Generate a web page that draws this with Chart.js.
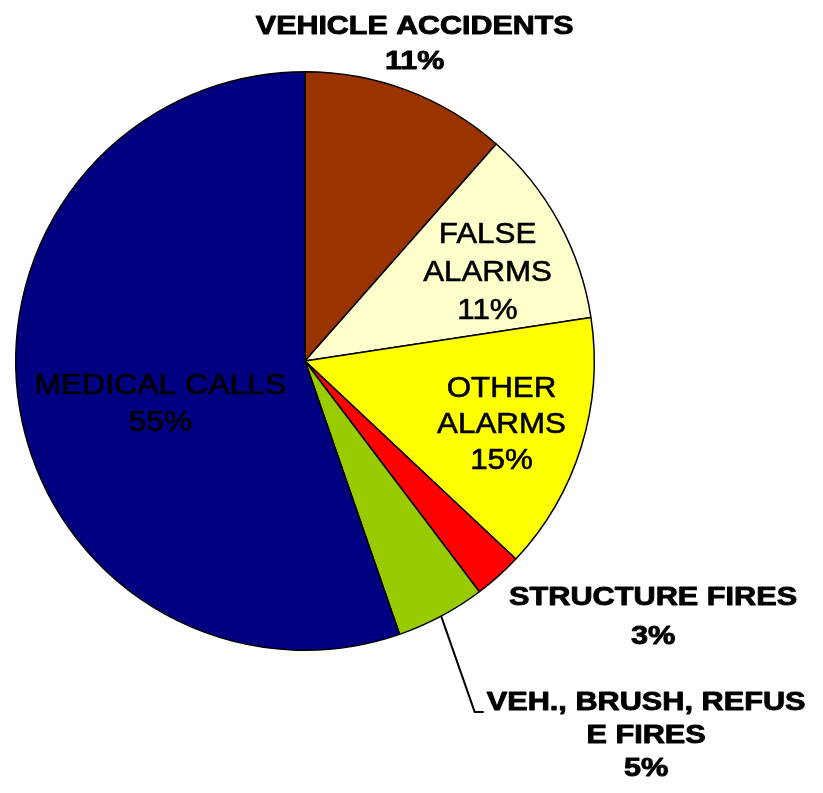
<!DOCTYPE html>
<html>
<head>
<meta charset="utf-8">
<script src="https://cdn.jsdelivr.net/npm/chart.js@4"></script>
<style>
  html, body { margin: 0; padding: 0; background: #fff; }
  #wrap { width: 823px; height: 793px; }
</style>
</head>
<body>
<div id="wrap"><canvas id="pieGraph" width="823" height="793"></canvas></div>
<script>
// categories and values (clockwise from 12 o'clock)
let categories = ['VEHICLE ACCIDENTS', 'FALSE ALARMS', 'OTHER ALARMS', 'STRUCTURE FIRES', 'VEH., BRUSH, REFUSE FIRES', 'MEDICAL CALLS'];
let values = [11.5, 11.1, 14.4, 2.7, 5.0, 55.3];
let percentLabels = ['11%', '11%', '15%', '3%', '5%', '55%'];
// label text as wrapped in the original
let labelLines = [
    ['VEHICLE ACCIDENTS'],
    ['FALSE', 'ALARMS'],
    ['OTHER', 'ALARMS'],
    ['STRUCTURE FIRES'],
    ['VEH., BRUSH, REFUS', 'E FIRES'],
    ['MEDICAL CALLS']
];
let colors = ['#993300', '#FFFFCC', '#FFFF00', '#FF0000', '#99CC00', '#000080'];

// label placement, relative to pie center in px at radius 290
let labelStyle = [
    { x: 110, y: -337, gap: 35, bold: true, size: 26, sx: 1.17 },
    { x: 183, y: -129, gap: 38, bold: false, size: 29, sx: 1.08 },
    { x: 197, y: 26, gap: 36, bold: false, size: 29, sx: 1.08 },
    { x: 349, y: 235, gap: 39, bold: true, size: 26, sx: 1.18 },
    { x: 342, y: 341, gap: 33, bold: true, size: 26, sx: 1.18, leader: true },
    { x: -145, y: 23, gap: 37, bold: false, size: 29, sx: 1.1 }
];

let sliceLabels = {
    id: 'sliceLabels',
    afterDatasetsDraw(chart) {
        let ctx = chart.ctx;
        let arcs = chart.getDatasetMeta(0).data;
        arcs.forEach(function(arc, i) {
            let st = labelStyle[i];
            let k = arc.outerRadius / 290;
            let cx = arc.x + st.x * k;
            let cy = arc.y + st.y * k;
            let lines = labelLines[i].concat([percentLabels[i]]);
            ctx.save();
            ctx.fillStyle = '#000';
            ctx.strokeStyle = '#000';
            ctx.lineJoin = 'round';
            ctx.font = (st.bold ? 'bold ' : '') + st.size + 'px "Liberation Sans", Arial, sans-serif';
            ctx.textAlign = 'center';
            ctx.textBaseline = 'alphabetic';
            lines.forEach(function(line, j) {
                ctx.save();
                ctx.translate(cx, cy + j * st.gap + st.size * 0.36);
                ctx.scale(st.sx, 1);
                ctx.fillText(line, 0, 0);
                ctx.lineWidth = st.bold ? 0.9 : 0.6;
                ctx.strokeText(line, 0, 0);
                ctx.restore();
            });
            if (st.leader) {
                let mid = (arc.startAngle + arc.endAngle) / 2;
                let x0 = arc.x + Math.cos(mid) * arc.outerRadius;
                let y0 = arc.y + Math.sin(mid) * arc.outerRadius;
                let w = ctx.measureText(labelLines[i][0]).width * st.sx;
                let lx = cx - w / 2 - 3;
                let ly = cy + 11;
                ctx.lineWidth = 2;
                ctx.beginPath();
                ctx.moveTo(x0, y0);
                ctx.lineTo(lx - 9, ly);
                ctx.lineTo(lx, ly);
                ctx.stroke();
            }
            ctx.restore();
        });
    }
};

let ctx = document.getElementById('pieGraph').getContext('2d');
new Chart(ctx, {
    type: 'pie',
    data: {
        labels: categories,
        datasets: [{
            data: values,
            backgroundColor: colors,
            borderColor: '#000',
            borderWidth: 1.5
        }]
    },
    options: {
        responsive: false,
        animation: false,
        layout: { padding: { left: 15, right: 228, top: 71, bottom: 142 } },
        plugins: {
            legend: { display: false },
            tooltip: { enabled: false }
        }
    },
    plugins: [sliceLabels]
});
</script>
</body>
</html>
